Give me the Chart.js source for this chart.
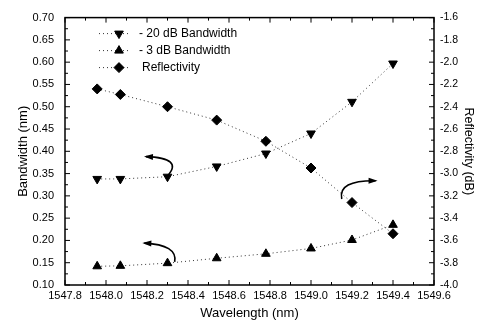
<!DOCTYPE html>
<html>
<head>
<meta charset="utf-8">
<script src="https://cdn.jsdelivr.net/npm/chart.js@4.4.0/dist/chart.umd.min.js"></script>
<style>
  html, body { margin: 0; padding: 0; background: #fff; }
  #wrap { width: 477px; height: 325px; position: relative; }
</style>
</head>
<body>
<div id="wrap"><canvas id="chart"></canvas></div>
<script>
// Data
const wavelengths = [1547.957, 1548.07, 1548.30, 1548.54, 1548.78, 1549.00, 1549.20, 1549.40];
const bw20dB = [0.338, 0.338, 0.343, 0.366, 0.395, 0.440, 0.511, 0.597];
const bw3dB = [0.142, 0.143, 0.149, 0.160, 0.170, 0.182, 0.201, 0.235];
const reflectivity = [-2.24, -2.29, -2.40, -2.52, -2.71, -2.95, -3.26, -3.54];

const labels = ['- 20 dB Bandwidth', '- 3 dB Bandwidth', 'Reflectivity'];

// curved arrows, in data coords: [start, control, end, axis]
const arrows = [
    { from: [1548.30, 0.345], ctrl: [1548.38, 0.385], to: [1548.195, 0.388], axis: 'y' },
    { from: [1548.335, 0.152], ctrl: [1548.35, 0.190], to: [1548.187, 0.194], axis: 'y' },
    { from: [1549.15, -3.228], ctrl: [1549.13, -3.06], to: [1549.315, -3.064], axis: 'y2' }
];

const FONT = '"Liberation Sans", Arial, sans-serif';

function pts(ys) {
    return wavelengths.map((x, i) => ({ x: x, y: ys[i] }));
}

function tickLabel(dec) {
    return function(v) { return Number(v).toFixed(dec); };
}

const lineStyle = {
    showLine: true,
    borderColor: '#333',
    borderWidth: 1,
    borderDash: [1, 3],
    backgroundColor: '#000',
    pointBorderColor: '#000',
    pointBackgroundColor: '#000'
};

// frame, inward ticks, legend and arrows
const decorations = {
    id: 'decorations',
    afterDraw(chart) {
        const ctx = chart.ctx;
        const a = chart.chartArea;
        const sx = chart.scales.x, sy = chart.scales.y, sy2 = chart.scales.y2;
        ctx.save();
        ctx.strokeStyle = '#000';
        ctx.lineWidth = 1.5;
        ctx.strokeRect(a.left, a.top, a.right - a.left, a.bottom - a.top);

        ctx.lineWidth = 1;
        ctx.beginPath();
        // x ticks top and bottom
        for (let i = 0; i <= 18; i++) {
            const v = 1547.8 + i * 0.1;
            const px = sx.getPixelForValue(v);
            const len = i % 2 === 0 ? 5 : 3;
            ctx.moveTo(px, a.bottom); ctx.lineTo(px, a.bottom - len);
            ctx.moveTo(px, a.top); ctx.lineTo(px, a.top + len);
        }
        // left ticks
        for (let i = 0; i <= 24; i++) {
            const v = 0.1 + i * 0.025;
            const py = sy.getPixelForValue(v);
            const len = i % 2 === 0 ? 5 : 3;
            ctx.moveTo(a.left, py); ctx.lineTo(a.left + len, py);
        }
        // right ticks
        for (let i = 0; i <= 24; i++) {
            const v = -4.0 + i * 0.1;
            const py = sy2.getPixelForValue(v);
            const len = i % 2 === 0 ? 5 : 3;
            ctx.moveTo(a.right, py); ctx.lineTo(a.right - len, py);
        }
        ctx.stroke();

        // legend
        const lx = a.left + 54, ly = a.top + 16, step = 17;
        chart.data.datasets.forEach((ds, i) => {
            const y = ly + i * step;
            ctx.save();
            ctx.strokeStyle = '#333';
            ctx.setLineDash([1, 3]);
            ctx.beginPath();
            ctx.moveTo(lx - 20, y); ctx.lineTo(lx + 10, y);
            ctx.stroke();
            ctx.restore();
            Chart.helpers.drawPoint(ctx, {
                pointStyle: ds.pointStyle,
                rotation: ds.pointRotation || 0,
                radius: ds.pointRadius,
                borderWidth: 1
            }, lx, y);
            ctx.fillStyle = '#000';
            ctx.font = '12px ' + FONT;
            ctx.textBaseline = 'middle';
            ctx.fillText(ds.label, lx + (i === 2 ? 23 : 20), y);
        });

        // curved arrows
        ctx.lineWidth = 1.6;
        ctx.strokeStyle = '#000';
        ctx.fillStyle = '#000';
        arrows.forEach(ar => {
            const ys = chart.scales[ar.axis];
            const p0 = [sx.getPixelForValue(ar.from[0]), ys.getPixelForValue(ar.from[1])];
            const pc = [sx.getPixelForValue(ar.ctrl[0]), ys.getPixelForValue(ar.ctrl[1])];
            const p1 = [sx.getPixelForValue(ar.to[0]), ys.getPixelForValue(ar.to[1])];
            ctx.beginPath();
            ctx.moveTo(p0[0], p0[1]);
            ctx.quadraticCurveTo(pc[0], pc[1], p1[0], p1[1]);
            ctx.stroke();
            const ang = Math.atan2(p1[1] - pc[1], p1[0] - pc[0]);
            const L = 7, W = 3;
            ctx.beginPath();
            ctx.moveTo(p1[0] + Math.cos(ang) * 2, p1[1] + Math.sin(ang) * 2);
            ctx.lineTo(p1[0] - Math.cos(ang) * L - Math.sin(ang) * W, p1[1] - Math.sin(ang) * L + Math.cos(ang) * W);
            ctx.lineTo(p1[0] - Math.cos(ang) * L + Math.sin(ang) * W, p1[1] - Math.sin(ang) * L - Math.cos(ang) * W);
            ctx.closePath();
            ctx.fill();
        });
        ctx.restore();
    }
};

new Chart(document.getElementById('chart'), {
    type: 'scatter',
    data: {
        datasets: [
            Object.assign({}, lineStyle, {
                label: labels[0], data: pts(bw20dB), yAxisID: 'y',
                pointStyle: 'triangle', pointRotation: 180, pointRadius: 5
            }),
            Object.assign({}, lineStyle, {
                label: labels[1], data: pts(bw3dB), yAxisID: 'y',
                pointStyle: 'triangle', pointRadius: 5
            }),
            Object.assign({}, lineStyle, {
                label: labels[2], data: pts(reflectivity), yAxisID: 'y2',
                pointStyle: 'rectRot', pointRadius: 5
            })
        ]
    },
    options: {
        responsive: true,
        maintainAspectRatio: false,
        animation: false,
        layout: { padding: { top: 16, left: 0, right: 0, bottom: 0 } },
        plugins: { legend: { display: false }, tooltip: { enabled: false } },
        scales: {
            x: {
                type: 'linear', min: 1547.8, max: 1549.6,
                grid: { display: false, drawTicks: false },
                border: { display: false },
                afterFit: s => { s.height = 40; },
                afterBuildTicks: s => {
                    s.ticks = [];
                    for (let i = 0; i <= 9; i++) s.ticks.push({ value: 1547.8 + i * 0.2 });
                },
                ticks: { color: '#000', font: { family: FONT, size: 11 }, padding: 4, maxRotation: 0, callback: tickLabel(1) },
                title: { display: true, text: 'Wavelength (nm)', color: '#000', font: { family: FONT, size: 13 }, padding: { top: 4 } }
            },
            y: {
                position: 'left', min: 0.1, max: 0.7,
                grid: { display: false, drawTicks: false },
                border: { display: false },
                afterFit: s => { s.width = 65; },
                afterBuildTicks: s => {
                    s.ticks = [];
                    for (let i = 0; i <= 12; i++) s.ticks.push({ value: 0.1 + i * 0.05 });
                },
                ticks: { color: '#000', font: { family: FONT, size: 11 }, padding: 11, callback: tickLabel(2) },
                title: { display: true, text: 'Bandwidth (nm)', color: '#000', font: { family: FONT, size: 13 }, padding: { top: 16 } }
            },
            y2: {
                position: 'right', min: -4.0, max: -1.6,
                grid: { display: false, drawTicks: false },
                border: { display: false },
                afterFit: s => { s.width = 43; },
                afterBuildTicks: s => {
                    s.ticks = [];
                    for (let i = 0; i <= 12; i++) s.ticks.push({ value: -4.0 + i * 0.2 });
                },
                ticks: { color: '#000', font: { family: FONT, size: 10.5 }, padding: 6, callback: tickLabel(1) },
                title: { display: true, text: 'Reflectivity (dB)', color: '#000', font: { family: FONT, size: 12.5 }, padding: { top: 1, bottom: 0 } }
            }
        }
    },
    plugins: [decorations]
});
</script>
</body>
</html>
